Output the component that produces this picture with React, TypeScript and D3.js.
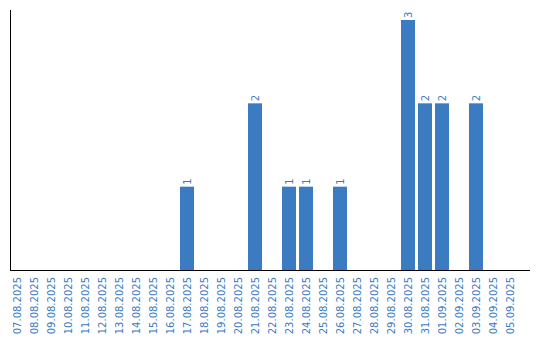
import React from "react";
import * as d3 from "d3";

const dates = [
  "07.08.2025","08.08.2025","09.08.2025","10.08.2025","11.08.2025","12.08.2025",
  "13.08.2025","14.08.2025","15.08.2025","16.08.2025","17.08.2025","18.08.2025",
  "19.08.2025","20.08.2025","21.08.2025","22.08.2025","23.08.2025","24.08.2025",
  "25.08.2025","26.08.2025","27.08.2025","28.08.2025","29.08.2025","30.08.2025",
  "31.08.2025","01.09.2025","02.09.2025","03.09.2025","04.09.2025","05.09.2025",
];
const counts = [0,0,0,0,0,0,0,0,0,0,1,0,0,0,2,0,1,1,0,1,0,0,0,3,2,2,0,2,0,0];

const W = 540;
const H = 340;
const COLOR = "#3a7bc2";

export default function App() {
  const x = d3.scaleBand<string>().domain(dates).range([10, 517]).paddingInner(3 / 17).paddingOuter(0);
  const y = d3.scaleLinear().domain([0, 3]).range([270, 20]);
  const font = "'DejaVu Sans', Verdana, sans-serif";
  return (
    <svg width={W} height={H} style={{ position: "absolute", left: 0, top: 0 }}>
      {dates.map((d, i) => {
        const v = counts[i];
        const bx = x(d)!;
        const cx = bx + x.bandwidth() / 2;
        return (
          <g key={d}>
            {v > 0 && (
              <>
                <rect x={bx} y={y(v)} width={x.bandwidth()} height={y(0) - y(v)} fill={COLOR} />
                <text
                  transform={`translate(${cx},${y(v) - 2}) rotate(-90)`}
                  dy="0.35em"
                  fontFamily={font}
                  fontSize={10}
                  fill={COLOR}
                  textAnchor="start"
                >
                  {v}
                </text>
              </>
            )}
            <text
              transform={`translate(${cx},277) rotate(-90)`}
              dy="0.35em"
              fontFamily={font}
              fontSize={10}
              fill={COLOR}
              textAnchor="end"
            >
              {d}
            </text>
          </g>
        );
      })}
      <line x1={10.5} x2={10.5} y1={10} y2={270} stroke="#000" strokeWidth={1} />
      <line x1={10} x2={530} y1={270.5} y2={270.5} stroke="#000" strokeWidth={1} />
    </svg>
  );
}
